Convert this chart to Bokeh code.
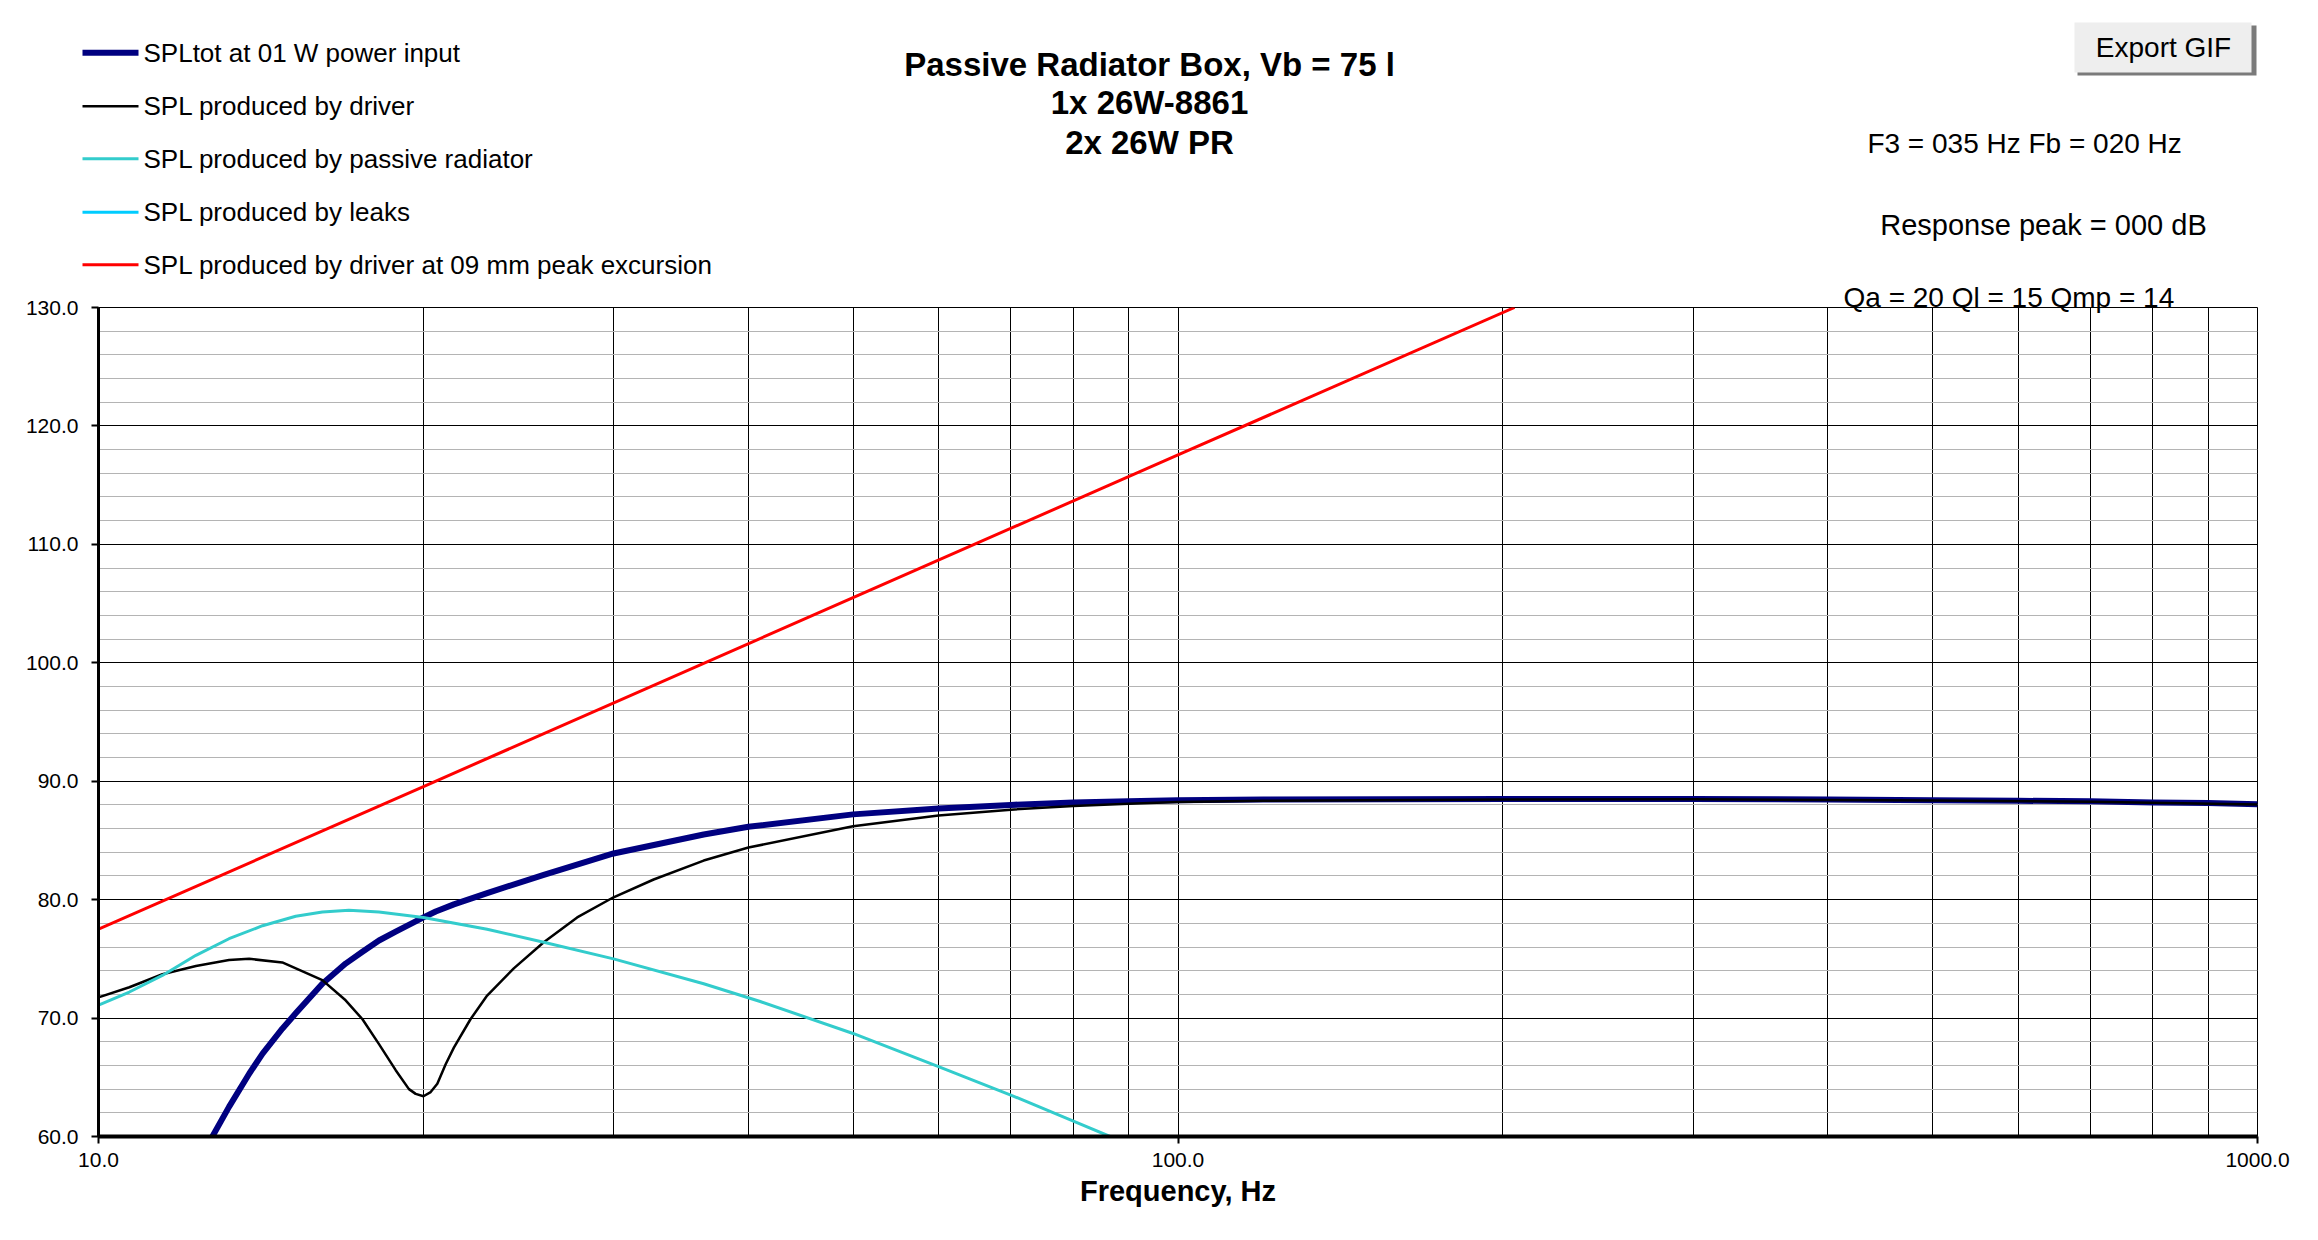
from bokeh.plotting import figure
from bokeh.layouts import column
from bokeh.models import FixedTicker, PrintfTickFormatter, Range1d, Title
from bokeh.core.properties import value
from bokeh.embed import file_html
from bokeh.resources import INLINE

FONT = "Liberation Sans"

# SPLtot at 01 W power input (navy)
f_tot = [12.75, 13.21, 13.79, 14.19, 14.8, 15.23, 16.12, 16.94, 17.56, 18.19, 18.85, 20.0, 20.53,
         21.34, 22.91, 25.85, 30, 36.36, 40, 50, 60, 70, 80, 90, 100, 120, 200, 300, 400, 500,
         600, 700, 800, 900, 1000]
spl_tot = [60.0, 62.5, 65.3, 67.0, 69.1, 70.4, 72.9, 74.6, 75.6, 76.55, 77.3, 78.5, 79.0,
           79.6, 80.55, 82.1, 83.9, 85.5, 86.15, 87.2, 87.7, 88.0, 88.2, 88.3, 88.4, 88.45, 88.5,
           88.5, 88.45, 88.4, 88.35, 88.3, 88.2, 88.15, 88.05]

# SPL produced by driver (black)
f_drv = [10, 10.68, 11.46, 12.31, 13.21, 13.79, 14.8, 16.12, 16.94, 17.56, 18.19, 18.85, 19.39,
         19.67, 20.0, 20.31, 20.6, 20.97, 21.34, 22.11, 22.91, 24.25, 25.85, 27.76, 30, 32.68,
         36.36, 40, 50, 60, 70, 80, 90, 100, 120, 200, 300, 500, 700, 1000]
spl_drv = [71.75, 72.6, 73.7, 74.4, 74.9, 75.0, 74.7, 73.2, 71.5, 69.9, 67.8, 65.6, 64.0,
           63.6, 63.4, 63.75, 64.45, 66.1, 67.5, 69.9, 71.9, 74.2, 76.4, 78.5, 80.2, 81.7,
           83.3, 84.4, 86.2, 87.1, 87.6, 87.9, 88.1, 88.25, 88.35, 88.45, 88.47, 88.38, 88.27, 88.03]

# SPL produced by passive radiator (turquoise)
f_pr = [10, 10.68, 11.46, 12.31, 13.21, 14.19, 15.23, 16.12, 17.06, 18.19, 20.0, 22.91, 25.85,
        30, 36.36, 41.02, 50, 60, 70, 80, 86.5]
spl_pr = [71.1, 72.2, 73.6, 75.3, 76.7, 77.8, 78.6, 78.95, 79.1, 78.95, 78.5, 77.5, 76.4,
          75.0, 72.9, 71.4, 68.7, 65.9, 63.5, 61.3, 60.0]

# SPL produced by leaks (stays below the visible range)
f_leak = []
spl_leak = []

# SPL produced by driver at 09 mm peak excursion (red)
f_exc = [10, 20, 50, 100, 205]
spl_exc = [77.5, 89.55, 105.5, 117.55, 130.0]

x_ticks = [10, 100, 1000]
x_minor = [20, 30, 40, 50, 60, 70, 80, 90, 200, 300, 400, 500, 600, 700, 800, 900]
y_ticks = [60, 70, 80, 90, 100, 110, 120, 130]
y_minor = [v for v in range(60, 131, 2) if v % 10]

series_names = ["SPLtot at 01 W power input", "SPL produced by driver",
                "SPL produced by passive radiator", "SPL produced by leaks",
                "SPL produced by driver at 09 mm peak excursion"]
series_colors = ["#000080", "black", "#33CCCC", "#00CCFF", "#FF0000"]
series_widths = [6, 2.5, 3, 3, 3]

title_lines = ["Passive Radiator Box, Vb = 75 l", "1x 26W-8861", "2x 26W PR"]
info_lines = ["F3 = 035 Hz  Fb = 020 Hz", "Response peak = 000 dB", "Qa = 20  Ql = 15  Qmp = 14"]

W, H = 2318, 1240
HEAD = 280
FL, FR, FT, FB = 98, 61, 307, 1136   # plot area edges on the page

# ---------------- header: title, legend, parameters, button ----------------
h = figure(width=W, height=HEAD, x_range=Range1d(0, W), y_range=Range1d(HEAD, 0),
           output_backend="svg", toolbar_location=None, title=None,
           x_axis_location=None, y_axis_location=None, min_border=0, frame_align=False)
h.grid.visible = False
h.outline_line_color = None

rows = [52.3, 105.7, 158.3, 211.7, 264.3]
h.segment(x0=[82] * 5, x1=[138] * 5, y0=rows, y1=rows,
          line_color=series_colors, line_width=series_widths)
h.text(x=[143] * 5, y=rows, text=series_names,
       text_font=value(FONT), text_font_size="26px", text_color="black",
       text_align="left", text_baseline="middle")

h.text(x=[1149] * 3, y=[63.8, 102.3, 142.3], text=title_lines,
       text_font=value(FONT), text_font_size="33px", text_font_style="bold",
       text_color="black", text_align="center", text_baseline="middle")

h.text(x=[2028], y=[143], text=info_lines[:1],
       text_font=value(FONT), text_font_size="28px", text_color="black",
       text_align="center", text_baseline="middle")
h.text(x=[2043], y=[224.2], text=info_lines[1:2],
       text_font=value(FONT), text_font_size="29px", text_color="black",
       text_align="center", text_baseline="middle")

# "Export GIF" button
h.quad(left=2077, right=2256, top=25, bottom=75, fill_color="#7a7a7a", line_color=None)
h.quad(left=2074, right=2251, top=22, bottom=72, fill_color="#eeeeee", line_color=None)
h.text(x=[2163], y=[46.7], text=["Export GIF"], text_font=value(FONT), text_font_size="28px",
       text_color="black", text_align="center", text_baseline="middle")

# ---------------- main chart ----------------
p = figure(width=W, height=H - HEAD, x_axis_type="log",
           x_range=Range1d(10, 1000), y_range=Range1d(60, 130),
           output_backend="svg", toolbar_location=None, title=None, frame_align=False,
           min_border_left=FL, min_border_right=FR, min_border_top=FT - HEAD,
           min_border_bottom=H - FB)
p.outline_line_color = "black"
p.outline_line_width = 1

p.add_layout(Title(text=info_lines[2], align="left", offset=1843 - FL,
                   text_font=FONT, text_font_size="28px", text_font_style="normal",
                   text_color="black", standoff=-10), "above")

p.xaxis.ticker = FixedTicker(ticks=x_ticks, minor_ticks=x_minor)
p.xaxis.formatter = PrintfTickFormatter(format="%.1f")
p.yaxis.ticker = FixedTicker(ticks=y_ticks, minor_ticks=y_minor)
p.yaxis.formatter = PrintfTickFormatter(format="%.1f")

for ax in (p.xaxis, p.yaxis):
    ax.axis_line_color = "black"
    ax.major_tick_line_color = "black"
    ax.major_tick_line_width = 2
    ax.major_tick_out = 7
    ax.major_tick_in = 0
    ax.minor_tick_line_color = None
    ax.major_label_text_font = FONT
    ax.major_label_text_font_size = "21px"
    ax.major_label_text_color = "black"
p.xaxis.axis_line_width = 4
p.yaxis.axis_line_width = 3
p.xaxis.major_label_standoff = 9
p.yaxis.major_label_standoff = 13
p.xaxis.axis_label = "Frequency, Hz"
p.xaxis.axis_label_text_font = FONT
p.xaxis.axis_label_text_font_style = "bold"
p.xaxis.axis_label_text_font_size = "29px"
p.xaxis.axis_label_text_color = "black"
p.xaxis.axis_label_standoff = 5

p.xgrid.grid_line_color = "black"
p.xgrid.grid_line_width = 1
p.xgrid.minor_grid_line_color = "black"
p.xgrid.minor_grid_line_width = 1
p.ygrid.grid_line_color = "black"
p.ygrid.grid_line_width = 1
p.ygrid.minor_grid_line_color = "#b4b4b4"
p.ygrid.minor_grid_line_width = 1

for (fx, fy), col, lw in zip([(f_tot, spl_tot), (f_drv, spl_drv), (f_pr, spl_pr),
                              (f_leak, spl_leak), (f_exc, spl_exc)],
                             series_colors, series_widths):
    p.line(fx, fy, line_color=col, line_width=lw, line_join="round")

layout = column(h, p, spacing=0)
open("out.html", "w").write(file_html(layout, INLINE))
